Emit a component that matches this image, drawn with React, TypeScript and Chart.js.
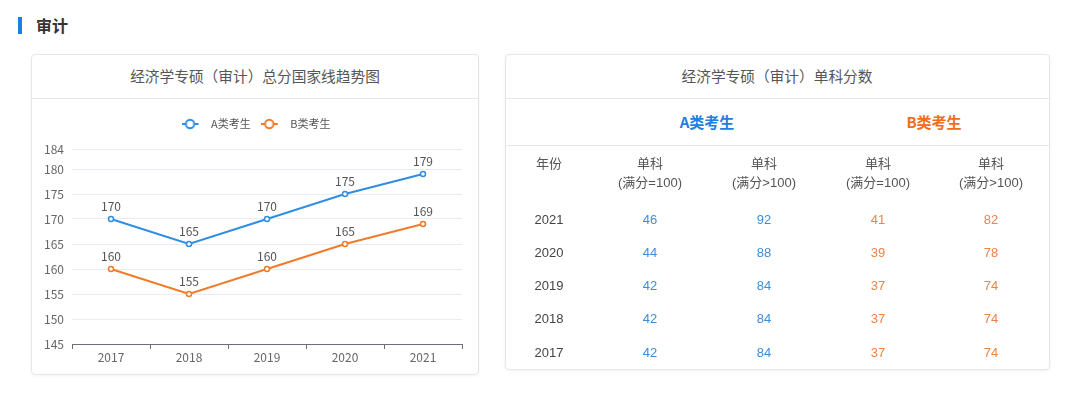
import React, { useEffect, useRef } from 'react';
import { Chart, registerables } from 'chart.js';

Chart.register(...registerables);

// ---- data ----
const years = ['2017', '2018', '2019', '2020', '2021'];
const totalA = [170, 165, 170, 175, 179];
const totalB = [160, 155, 160, 165, 169];
const yTickValues = [145, 150, 155, 160, 165, 170, 175, 180, 184];
const seriesNames = ['A类考生', 'B类考生'];

const tableYears = ['2021', '2020', '2019', '2018', '2017'];
const aEq100 = [46, 44, 42, 42, 42];
const aGt100 = [92, 88, 84, 84, 84];
const bEq100 = [41, 39, 37, 37, 37];
const bGt100 = [82, 78, 74, 74, 74];
const colHeadTop = ['单科', '单科', '单科', '单科'];
const colHeadSub = ['(满分=100)', '(满分>100)', '(满分=100)', '(满分>100)'];

const chartTitle = '经济学专硕（审计）总分国家线趋势图';
const tableTitle = '经济学专硕（审计）单科分数';
const sectionTitle = '审计';

// ---- styles ----
const BLUE = '#2f8de4';
const ORANGE = '#f07b2a';
const T_BLUE = '#3c8ddc';
const T_ORANGE = '#eb8447';
const FF = '"Noto Sans CJK SC", "Noto Sans", sans-serif';
const NF = '"Liberation Sans", Arial, "Noto Sans CJK SC", sans-serif';

function makeIcon(color: string) {
  const c = document.createElement('canvas');
  c.width = 24;
  c.height = 14;
  const ctx = c.getContext('2d')!;
  ctx.strokeStyle = color;
  ctx.lineWidth = 2;
  ctx.beginPath();
  ctx.moveTo(0, 7);
  ctx.lineTo(17, 7);
  ctx.stroke();
  ctx.beginPath();
  ctx.arc(8.5, 7, 4.2, 0, Math.PI * 2);
  ctx.fillStyle = '#fff';
  ctx.fill();
  ctx.stroke();
  return c;
}

const valueLabels = {
  id: 'valueLabels',
  afterDatasetsDraw(chart: any) {
    const ctx = chart.ctx;
    ctx.save();
    ctx.font = '12px ' + FF;
    ctx.fillStyle = '#555';
    ctx.textAlign = 'center';
    ctx.textBaseline = 'middle';
    chart.data.datasets.forEach((ds: any, i: number) => {
      const meta = chart.getDatasetMeta(i);
      meta.data.forEach((pt: any, j: number) => {
        ctx.fillText(String(ds.data[j]), pt.x, pt.y - 13);
      });
    });
    ctx.restore();
  },
};

// nudges the centred legend row to sit where the reference draws it
const legendNudge = {
  id: 'legendNudge',
  afterLayout(chart: any) {
    if (chart.legend) {
      chart.legend.left += 9;
      chart.legend.right += 9;
    }
  },
};

function TrendChart() {
  const ref = useRef<HTMLCanvasElement>(null);
  useEffect(() => {
    const colors = [BLUE, ORANGE];
    const icons = colors.map(makeIcon);
    const chart = new Chart(ref.current!, {
      type: 'line',
      data: {
        labels: years,
        datasets: [totalA, totalB].map((d, i) => ({
          label: seriesNames[i],
          data: d,
          borderColor: colors[i],
          backgroundColor: '#fff',
          borderWidth: 2,
          pointRadius: 2.5,
          pointBorderWidth: 1.5,
          pointBackgroundColor: '#fff',
          pointBorderColor: colors[i],
          tension: 0,
        })),
      },
      options: {
        responsive: false,
        animation: false,
        layout: { padding: { top: 9.5, right: 16, bottom: 0, left: 0 } },
        plugins: {
          legend: {
            position: 'top',
            labels: {
              usePointStyle: true,
              pointStyleWidth: 24,
              padding: 10,
              color: '#555',
              font: { size: 11, family: FF },
              generateLabels: (ch: any) =>
                ch.data.datasets.map((ds: any, i: number) => ({
                  text: ds.label,
                  fillStyle: colors[i],
                  strokeStyle: colors[i],
                  lineWidth: 0,
                  pointStyle: icons[i],
                  hidden: false,
                  datasetIndex: i,
                  fontColor: '#555',
                })),
            },
          },
          title: {
            display: true,
            text: '',
            weight: 500,
            padding: { top: 3.5, bottom: 0 },
            font: { size: 5 },
          } as any,
          tooltip: { enabled: false },
        },
        scales: {
          x: {
            offset: true,
            grid: {
              offset: true,
              drawOnChartArea: false,
              drawTicks: true,
              tickLength: 5,
              color: '#6e7079',
            },
            border: { display: true, color: '#6e7079', width: 1 },
            ticks: { color: '#666', font: { size: 12, family: FF }, padding: 1, maxRotation: 0 },
            afterFit: (s: any) => {
              s.height = 30;
            },
          },
          y: {
            min: 145,
            max: 184,
            afterBuildTicks: (s: any) => {
              s.ticks = yTickValues.map((v) => ({ value: v }));
            },
            grid: { color: '#e9edf3', drawTicks: false },
            border: { display: false },
            ticks: { color: '#666', font: { size: 12, family: FF }, padding: 8 },
            afterFit: (s: any) => {
              s.width = 40;
            },
          },
        },
      },
      plugins: [valueLabels, legendNudge],
    } as any);
    return () => chart.destroy();
  }, []);
  return (
    <canvas
      ref={ref}
      width={446}
      height={275}
      style={{ position: 'absolute', left: 32, top: 99, width: 446, height: 275 }}
    />
  );
}

function Txt(props: { cx: number; cy: number; text: string; style?: any }) {
  return (
    <div
      style={{
        position: 'absolute',
        left: props.cx - 200,
        top: props.cy - 10,
        width: 400,
        height: 20,
        lineHeight: '20px',
        textAlign: 'center',
        whiteSpace: 'nowrap',
        ...props.style,
      }}
    >
      {props.text}
    </div>
  );
}

export default function App() {
  const colX = [650, 764, 878, 991];
  const yearX = 549;
  const rowY = (i: number) => 219.7 + i * 33.2;
  const valueCols = [aEq100, aGt100, bEq100, bGt100];
  const valueColors = [T_BLUE, T_BLUE, T_ORANGE, T_ORANGE];
  const headStyle = { fontSize: 13, color: '#555', fontFamily: NF };
  const cellStyle = { fontSize: 13, fontFamily: NF };
  return (
    <div
      style={{
        position: 'absolute',
        left: 0,
        top: 0,
        width: 1080,
        height: 394,
        background: '#fff',
        fontFamily: FF,
        overflow: 'hidden',
      }}
    >
      {/* section heading */}
      <div style={{ position: 'absolute', left: 18, top: 17, width: 4, height: 17, background: '#1a7fe0' }} />
      <div
        style={{
          position: 'absolute',
          left: 36,
          top: 15,
          height: 20,
          lineHeight: '20px',
          fontSize: 16,
          fontWeight: 700,
          color: '#333',
        }}
      >
        {sectionTitle}
      </div>

      {/* left card */}
      <div
        style={{
          position: 'absolute',
          left: 31,
          top: 54,
          width: 448,
          height: 321,
          boxSizing: 'border-box',
          border: '1px solid #e6e6e6',
          borderRadius: 4,
          boxShadow: '0 1px 3px rgba(0,0,0,0.05)',
        }}
      />
      <div style={{ position: 'absolute', left: 32, top: 98, width: 446, height: 1, background: '#e8e8e8' }} />
      <Txt cx={255} cy={76} text={chartTitle} style={{ fontSize: 14.7, color: '#555' }} />
      <TrendChart />

      {/* right card */}
      <div
        style={{
          position: 'absolute',
          left: 505,
          top: 54,
          width: 545,
          height: 316,
          boxSizing: 'border-box',
          border: '1px solid #e6e6e6',
          borderRadius: 4,
          boxShadow: '0 1px 3px rgba(0,0,0,0.06)',
        }}
      />
      <div style={{ position: 'absolute', left: 506, top: 98, width: 543, height: 1, background: '#e8e8e8' }} />
      <div style={{ position: 'absolute', left: 506, top: 145, width: 543, height: 1, background: '#e8e8e8' }} />
      <Txt cx={777} cy={76} text={tableTitle} style={{ fontSize: 14.7, color: '#555' }} />
      <Txt cx={707} cy={122} text={seriesNames[0]} style={{ fontSize: 15, fontWeight: 700, color: '#1d80e2' }} />
      <Txt cx={934} cy={122} text={seriesNames[1]} style={{ fontSize: 15, fontWeight: 700, color: '#f26c1e' }} />

      <Txt cx={yearX} cy={164} text="年份" style={headStyle} />
      {colX.map((x, i) => (
        <React.Fragment key={'h' + i}>
          <Txt cx={x} cy={164} text={colHeadTop[i]} style={headStyle} />
          <Txt cx={x} cy={183} text={colHeadSub[i]} style={headStyle} />
        </React.Fragment>
      ))}
      {tableYears.map((yr, r) => (
        <React.Fragment key={'r' + r}>
          <Txt cx={yearX} cy={rowY(r)} text={yr} style={{ ...cellStyle, color: '#444' }} />
          {valueCols.map((col, c) => (
            <Txt
              key={'c' + c}
              cx={colX[c]}
              cy={rowY(r)}
              text={String(col[r])}
              style={{ ...cellStyle, color: valueColors[c] }}
            />
          ))}
        </React.Fragment>
      ))}
    </div>
  );
}
